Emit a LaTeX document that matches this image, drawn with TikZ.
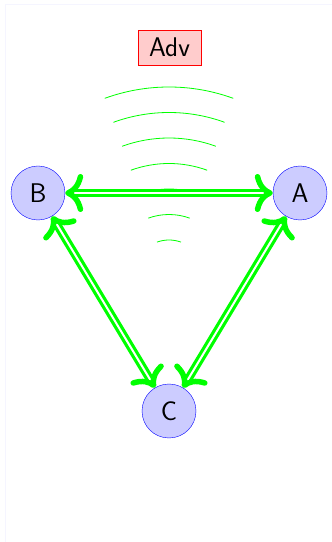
\documentclass[tikz,border=0pt]{standalone}
\usepackage{tikz}
\usetikzlibrary{arrows.meta}

\begin{document}
\begin{tikzpicture}[x=1pt,y=1pt,font=\sffamily\fontsize{27}{32}\selectfont,
   pty/.style={circle,draw=blue,fill=blue!20,minimum size=54pt,inner sep=0pt},
   adv/.style={draw=red,fill=red!20,inner xsep=11pt,inner ysep=8pt},
   link/.style={green,line width=3.2pt,double=white,double distance=2pt,
                shorten <=6pt,shorten >=6pt},
   head/.style={green,line width=4.5pt,tips,
                {To[length=18pt,width=38pt,line width=5.5pt,round]}-{To[length=18pt,width=38pt,line width=5.5pt,round]}},
   wave/.style={green,line width=0.8pt}]
  \useasboundingbox (0,0) rectangle (332,542);
  \draw[blue!4,line width=1pt] (5,0) -- (5,537) -- (332,537);
  \node[adv] (adv) at (169.5,494.5) {Adv};
  \node[pty] (a) at (300,349) {A};
  \node[pty] (b) at (38,349) {B};
  \node[pty] (c) at (169,131) {C};
  \coordinate (src) at (169,267);
  \foreach \r in {35,60.5,86,111.5,137,162.5,188}
    \draw[wave] (src) ++(70:\r pt) arc[start angle=70,end angle=110,radius=\r pt];
  \draw[link] (b) -- (a);
  \draw[link] (b) -- (c);
  \draw[link] (a) -- (c);
  \path[head] (b) -- (a);
  \path[head] (b) -- (c);
  \path[head] (a) -- (c);
\end{tikzpicture}
\end{document}
